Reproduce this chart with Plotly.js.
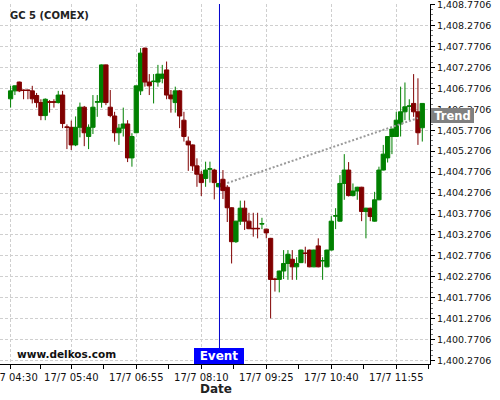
<!DOCTYPE html>
<html>
<head>
<meta charset="utf-8">
<script src="https://cdn.plot.ly/plotly-3.0.1.min.js"></script>
<style>html,body{margin:0;padding:0;background:#fff;}#chart{width:500px;height:400px;}</style>
</head>
<body>
<div id="chart"></div>
<script>
var day = '2019-07-17';
var times = ['04:30','04:35','04:40','04:45','04:50','04:55','05:00','05:05','05:10','05:15','05:20','05:25',
 '05:30','05:35','05:40','05:45','05:50','05:55','06:00','06:05','06:10','06:15','06:20','06:25',
 '06:30','06:35','06:40','06:45','06:50','06:55','07:00','07:05','07:10','07:15','07:20','07:25',
 '07:30','07:35','07:40','07:45','07:50','07:55','08:00','08:05','08:10','08:15','08:20','08:25',
 '08:30','08:35','08:40','08:45','08:50','08:55','09:00','09:05','09:10','09:15','09:20','09:25',
 '09:30','09:35','09:40','09:45','09:50','09:55','10:00','10:05','10:10','10:15','10:20','10:25',
 '10:30','10:35','10:40','10:45','10:50','10:55','11:00','11:05','11:10','11:15','11:20','11:25',
 '11:30','11:35','11:40','11:45','11:50','11:55','12:00','12:05','12:10','12:15','12:20','12:25'];
var openP = [1406.52,1406.71,1406.92,1406.73,1406.73,1406.71,1406.60,1406.43,1406.12,1406.45,1406.45,1406.43,
 1406.61,1405.85,1405.84,1405.42,1405.84,1406.32,1405.62,1405.84,1406.44,1406.44,1407.33,1406.32,
 1406.11,1405.71,1405.82,1405.92,1405.11,1405.71,1406.71,1407.73,1406.92,1406.93,1406.92,1407.01,
 1407.21,1406.61,1406.43,1406.71,1406.01,1405.51,1405.42,1404.92,1404.72,1404.62,1404.84,1404.82,
 1404.42,1404.60,1404.41,1403.92,1403.11,1403.60,1403.91,1403.60,1403.43,1403.43,1403.53,1403.41,
 1403.19,1402.22,1402.21,1402.41,1402.59,1402.69,1402.51,1402.61,1402.84,1402.91,1402.51,1403.01,
 1402.65,1402.51,1402.91,1403.72,1403.60,1404.50,1404.82,1404.21,1404.32,1404.41,1403.83,1403.91,
 1403.60,1404.11,1404.82,1405.11,1405.62,1405.62,1405.92,1406.21,1406.34,1406.41,1406.21,1405.83];
var highP = [1406.83,1406.84,1406.93,1406.74,1406.74,1406.83,1406.66,1406.51,1406.53,1406.49,1406.51,1406.71,
 1406.71,1405.91,1406.00,1406.10,1406.43,1406.35,1405.91,1406.61,1406.61,1407.34,1407.34,1406.73,
 1406.21,1405.92,1406.31,1406.01,1405.70,1406.83,1407.73,1407.74,1407.11,1407.11,1407.33,1407.33,
 1407.41,1406.73,1406.81,1406.73,1406.21,1405.62,1405.43,1405.10,1404.80,1405.02,1405.02,1404.85,
 1404.51,1404.82,1404.46,1403.93,1403.61,1404.09,1404.09,1403.80,1403.80,1403.80,1403.68,1403.42,
 1403.20,1402.25,1402.42,1402.91,1402.91,1402.91,1402.74,1402.92,1402.99,1402.92,1402.92,1403.19,
 1402.74,1402.92,1403.72,1403.91,1404.70,1405.20,1405.01,1404.50,1404.42,1404.42,1403.92,1403.92,
 1404.30,1404.90,1405.42,1405.62,1405.81,1406.21,1406.81,1406.91,1406.51,1407.11,1407.01,1406.41];
var lowP = [1406.31,1406.61,1406.68,1406.51,1406.51,1406.41,1406.31,1406.01,1406.01,1406.19,1406.31,1406.41,
 1405.82,1405.32,1405.30,1405.39,1405.60,1405.39,1405.32,1405.68,1406.09,1406.31,1406.37,1406.08,
 1405.50,1405.42,1405.62,1405.01,1404.90,1405.70,1406.61,1406.81,1406.61,1406.41,1406.81,1406.89,
 1406.51,1406.19,1406.19,1405.82,1405.50,1404.80,1404.80,1404.42,1404.20,1404.42,1404.52,1404.12,
 1404.41,1404.13,1403.58,1402.59,1403.08,1403.51,1403.39,1403.41,1403.23,1403.19,1403.41,1403.19,
 1401.28,1401.92,1401.90,1402.22,1402.20,1402.20,1402.20,1402.60,1402.59,1402.50,1402.50,1402.50,
 1402.20,1402.50,1402.90,1403.41,1403.59,1404.11,1404.19,1404.19,1404.11,1403.60,1403.19,1403.60,
 1403.59,1404.10,1404.81,1405.00,1405.20,1405.61,1405.62,1406.01,1406.01,1406.09,1405.42,1405.50];
var closeP = [1406.71,1406.83,1406.71,1406.72,1406.72,1406.52,1406.43,1406.12,1406.51,1406.44,1406.44,1406.61,
 1405.93,1405.84,1405.42,1405.84,1406.32,1405.71,1405.84,1406.32,1406.45,1407.33,1406.43,1406.12,
 1405.71,1405.82,1405.92,1405.11,1405.62,1406.83,1407.61,1406.92,1406.83,1406.94,1407.11,1407.11,
 1406.61,1406.52,1406.71,1406.11,1405.62,1405.42,1404.92,1404.72,1404.52,1404.82,1404.85,1404.52,
 1404.50,1404.33,1403.92,1403.11,1403.60,1403.91,1403.60,1403.42,1403.42,1403.42,1403.54,1403.32,
 1402.21,1402.21,1402.41,1402.59,1402.81,1402.51,1402.59,1402.91,1402.83,1402.51,1402.91,1402.51,
 1402.66,1402.91,1403.60,1403.73,1404.50,1404.82,1404.21,1404.32,1404.41,1403.83,1403.91,1403.71,
 1404.11,1404.82,1405.20,1405.62,1405.80,1406.01,1406.21,1406.33,1406.35,1406.21,1405.71,1406.41];
var xTickTimes = ['04:30','05:40','06:55','08:10','09:25','10:40','11:55'];
var xMinorTimes = ['05:05','06:17:30','07:32:30','08:47:30','10:02:30','11:17:30','12:32:30'];
var trendTimes = ['08:40','12:20'];
var trendValues = [1404.51, 1406.06];
var eventTime = '08:31';
var yTickStart = 1400.2706;
var titleText = 'GC 5 (COMEX)';
var xTitleText = 'Date';
var watermark = 'www.delkos.com';

function ts(t){ return day + ' ' + t; }
var FONT = 'DejaVu Sans';

var candle = {
  type: 'candlestick',
  x: times.map(ts),
  open: openP, high: highP, low: lowP, close: closeP,
  increasing: {line: {color: '#008000', width: 1}, fillcolor: '#008000'},
  decreasing: {line: {color: '#800000', width: 1}, fillcolor: '#800000'},
  whiskerwidth: 0,
  hoverinfo: 'skip'
};
var trend = {
  type: 'scatter', mode: 'lines',
  x: trendTimes.map(ts), y: trendValues,
  line: {color: '#9a9a9a', width: 2, dash: '2px,2px'},
  hoverinfo: 'skip'
};

var gridDash = '3px,2px';
var layout = {
  width: 500, height: 400,
  margin: {l: 0, r: 70, t: 4, b: 36},
  paper_bgcolor: '#fff', plot_bgcolor: '#fff',
  showlegend: false,
  boxgap: 0.02, boxgroupgap: 0,
  title: {text: titleText, font: {family: FONT, size: 10, weight: 'bold', color: '#222'},
          x: 0.02, xref: 'container', xanchor: 'left', y: 0.961, yref: 'container', yanchor: 'middle'},
  xaxis: {
    type: 'date',
    range: [ts('04:17:47'), ts('12:33:54')],
    tickmode: 'array', tickvals: xTickTimes.map(ts),
    tickformat: '%d/%-m %H:%M',
    ticks: 'outside', ticklen: 4, tickcolor: '#000',
    showline: true, linecolor: '#000', linewidth: 1,
    showgrid: true, gridcolor: '#cfcfcf', griddash: gridDash, gridwidth: 1,
    zeroline: false,
    minor: {tickmode: 'array', tickvals: xMinorTimes.map(ts), ticks: 'outside', ticklen: 4, tickcolor: '#000', showgrid: false},
    tickfont: {family: FONT, size: 10, color: '#111'},
    ticklabeloverflow: 'allow',
    rangeslider: {visible: false},
    fixedrange: true
  },
  yaxis: {
    side: 'right',
    range: [1400.191, 1408.783],
    tickmode: 'linear', tick0: yTickStart, dtick: 0.5,
    tickformat: ',.4f',
    ticks: 'outside', ticklen: 4, tickcolor: '#000',
    showline: true, linecolor: '#000', linewidth: 1,
    showgrid: true, gridcolor: '#cfcfcf', griddash: gridDash, gridwidth: 1,
    zeroline: false,
    minor: {tick0: yTickStart, dtick: 0.125, ticks: 'outside', ticklen: 2, tickcolor: '#777', showgrid: false},
    tickfont: {family: FONT, size: 9.5, color: '#111'},
    ticklabeloverflow: 'allow',
    fixedrange: true
  },
  shapes: [{
    type: 'line', xref: 'x', yref: 'paper',
    x0: ts(eventTime), x1: ts(eventTime), y0: 0, y1: 1,
    line: {color: '#0000cc', width: 1}
  }],
  annotations: [
    {text: 'Event', xref: 'x', x: ts(eventTime), yref: 'paper', y: 0, yanchor: 'bottom', xanchor: 'center',
     showarrow: false, bgcolor: '#0000ff', borderwidth: 0, borderpad: 1, width: 48, height: 14,
     font: {family: FONT, size: 12, weight: 'bold', color: '#fff'}},
    {text: 'Trend', xref: 'paper', x: 1, xanchor: 'left', xshift: 1, yref: 'y', y: 1406.117, yanchor: 'middle',
     showarrow: false, bgcolor: '#808080', borderwidth: 0, borderpad: 1, width: 41, height: 13,
     font: {family: FONT, size: 11.5, weight: 'bold', color: '#fff'}},
    {text: watermark, xref: 'paper', x: 0.0349, xanchor: 'left', yref: 'paper', y: 0.029, yanchor: 'middle',
     showarrow: false, font: {family: FONT, size: 10.5, weight: 'bold', color: '#111'}},
    {text: xTitleText, xref: 'paper', x: 216.5 / 430, xanchor: 'center', yref: 'paper', y: -0.0694, yanchor: 'middle',
     showarrow: false, font: {family: FONT, size: 12, weight: 'bold', color: '#222'}}
  ]
};

Plotly.newPlot('chart', [candle, trend], layout, {staticPlot: true, displayModeBar: false});
</script>
</body>
</html>
